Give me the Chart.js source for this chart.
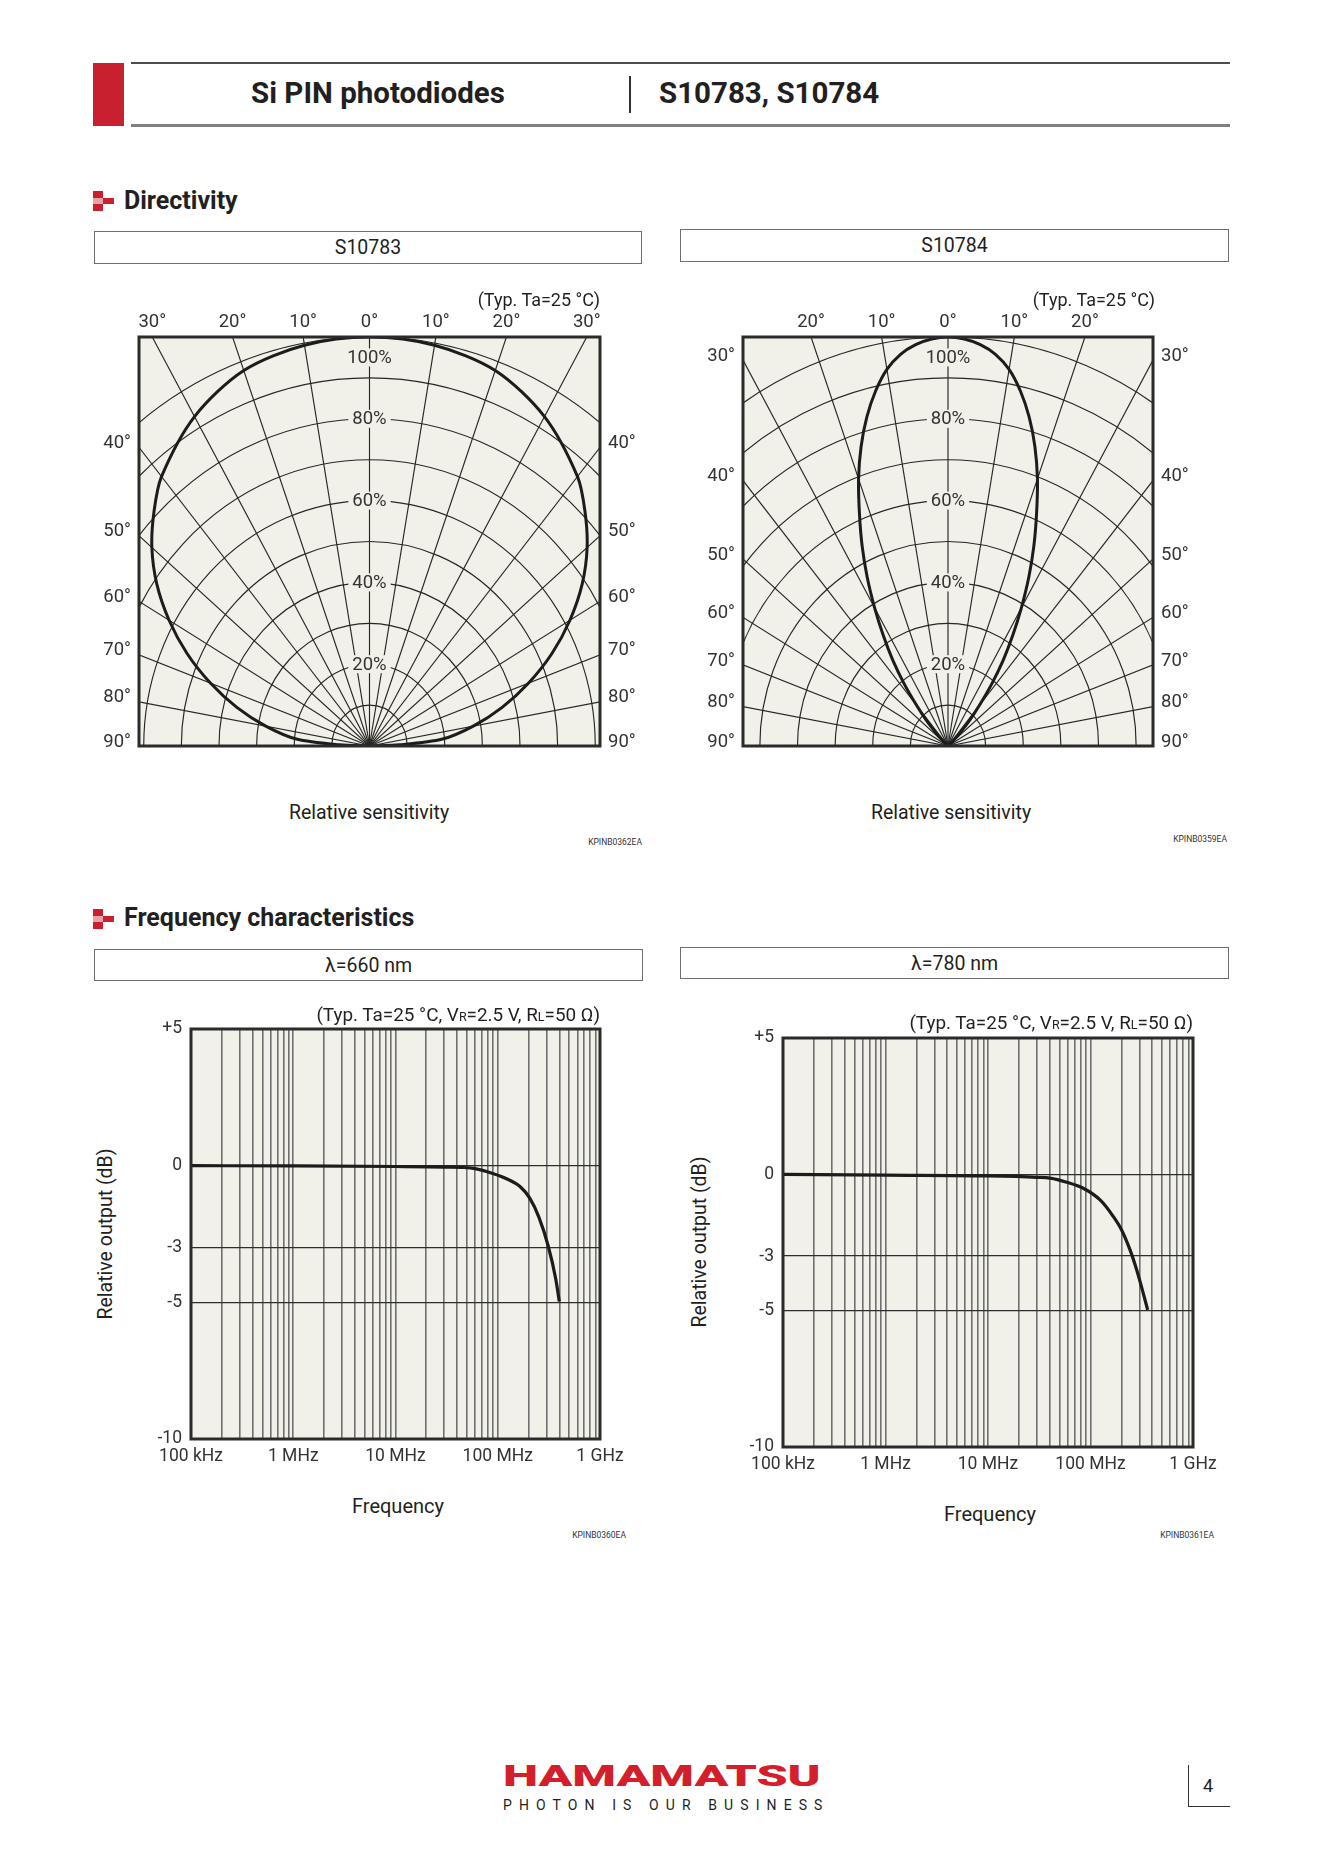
<!DOCTYPE html>
<html>
<head>
<meta charset="utf-8">
<title>Si PIN photodiodes S10783, S10784</title>
<script src="https://cdn.jsdelivr.net/npm/chart.js@4.4.1/dist/chart.umd.min.js"></script>
<style>
    html, body { margin: 0; padding: 0; background: #fff; }
    body { position: relative; width: 1322px; height: 1871px; overflow: hidden;
           font-family: Roboto, "DejaVu Sans", sans-serif; color: #231f20; }
    .t { position: absolute; white-space: nowrap; line-height: 1; transform: translateY(-50%); }
    .t.c { transform: translate(-50%, -50%); }
    .t.r { transform: translate(-100%, -50%); }
    .t.v { transform: translate(-50%, -50%) rotate(-90deg); }
    .rule { position: absolute; }
    .box { position: absolute; box-sizing: border-box; border: 1.5px solid #6d6e71; background: #fff;
           display: flex; align-items: center; justify-content: center; font-size: 19.5px; }
    .sub { font-size: 0.66em; }
    .code { font-size: 8.5px; color: #333; }
    canvas { position: absolute; }
</style>
</head>
<body>

<!-- page header -->
<div class="rule" style="left:93px;top:63px;width:31px;height:63px;background:#c8202f"></div>
<div class="rule" style="left:131px;top:62px;width:1099px;height:2px;background:#4d4d4f"></div>
<div class="rule" style="left:131px;top:124px;width:1099px;height:2.5px;background:#808082"></div>
<div class="rule" style="left:629px;top:76px;width:1.5px;height:37px;background:#333"></div>
<div class="t c" style="left:378px;top:94px;font-size:29.5px;font-weight:700">Si PIN photodiodes</div>
<div class="t" style="left:659px;top:94px;font-size:29.5px;font-weight:700">S10783, S10784</div>

<!-- section: directivity -->
<div class="rule" style="left:93px;top:191px;width:10px;height:7px;background:#c8202f"></div>
<div class="rule" style="left:93px;top:198px;width:10px;height:6px;background:#e8a3a8"></div>
<div class="rule" style="left:103px;top:198px;width:11px;height:6px;background:#c8202f"></div>
<div class="rule" style="left:93px;top:204px;width:10px;height:7px;background:#c8202f"></div>
<div class="t" style="left:124px;top:200px;font-size:25px;font-weight:700">Directivity</div>

<div class="box" style="left:94px;top:231px;width:548px;height:33px">S10783</div>
<div class="box" style="left:680px;top:229px;width:549px;height:33px">S10784</div>

<canvas id="polar783" width="560" height="462" style="left:90px;top:300px"></canvas>
<canvas id="polar784" width="510" height="462" style="left:695px;top:300px"></canvas>

<div class="t r" style="left:600px;top:300px;font-size:18px">(Typ. Ta=25 °C)</div>
<div class="t r" style="left:1155px;top:300px;font-size:18px">(Typ. Ta=25 °C)</div>
<div class="t c" style="left:369px;top:813px;font-size:19.5px">Relative sensitivity</div>
<div class="t c" style="left:951px;top:813px;font-size:19.5px">Relative sensitivity</div>
<div class="t r code" style="left:642px;top:842px">KPINB0362EA</div>
<div class="t r code" style="left:1227px;top:839px">KPINB0359EA</div>

<!-- section: frequency characteristics -->
<div class="rule" style="left:93px;top:909px;width:10px;height:7px;background:#c8202f"></div>
<div class="rule" style="left:93px;top:916px;width:10px;height:6px;background:#e8a3a8"></div>
<div class="rule" style="left:103px;top:916px;width:11px;height:6px;background:#c8202f"></div>
<div class="rule" style="left:93px;top:922px;width:10px;height:7px;background:#c8202f"></div>
<div class="t" style="left:124px;top:917px;font-size:25px;font-weight:700">Frequency characteristics</div>

<div class="box" style="left:94px;top:949px;width:549px;height:32px">λ=660 nm</div>
<div class="box" style="left:680px;top:947px;width:549px;height:32px">λ=780 nm</div>

<canvas id="freq660" width="520" height="490" style="left:120px;top:1000px"></canvas>
<canvas id="freq780" width="520" height="490" style="left:712px;top:1009px"></canvas>

<div class="t r" style="left:600px;top:1015px;font-size:18.9px">(Typ. Ta=25 °C, V<span class="sub">R</span>=2.5 V, R<span class="sub">L</span>=50 Ω)</div>
<div class="t r" style="left:1193px;top:1023px;font-size:18.9px">(Typ. Ta=25 °C, V<span class="sub">R</span>=2.5 V, R<span class="sub">L</span>=50 Ω)</div>
<div class="t v" style="left:106px;top:1234px;font-size:19.5px">Relative output (dB)</div>
<div class="t v" style="left:700px;top:1242px;font-size:19.5px">Relative output (dB)</div>
<div class="t c" style="left:398px;top:1506px;font-size:20px">Frequency</div>
<div class="t c" style="left:990px;top:1514px;font-size:20px">Frequency</div>
<div class="t r code" style="left:626px;top:1535px">KPINB0360EA</div>
<div class="t r code" style="left:1214px;top:1535px">KPINB0361EA</div>

<!-- footer -->
<div id="logo" class="t" style="left:503px;top:1776px;font-size:30px;font-weight:900;color:#d31f2b;transform-origin:0 50%">HAMAMATSU</div>
<div id="slogan" class="t" style="left:503px;top:1805px;font-size:14px;color:#231f20">PHOTON IS OUR BUSINESS</div>
<div class="rule" style="left:1188px;top:1765px;width:1.3px;height:42px;background:#333"></div>
<div class="rule" style="left:1188px;top:1806px;width:42px;height:1.3px;background:#333"></div>
<div class="t" style="left:1203px;top:1786px;font-size:18px">4</div>

<script>
// ---- directivity data (angle in degrees from the normal, relative sensitivity in %) ----
const angles783 = [-90, -88, -85, -80, -75, -70, -65, -60, -55, -50, -45, -40, -30, -20, -10, 0,
                   10, 20, 30, 40, 45, 50, 55, 60, 65, 70, 75, 80, 85, 88, 90];
const sens783 = [0, 8, 19.5, 28, 36.5, 45, 53.5, 61.5, 69, 75.5, 81, 86, 93, 97.7, 99.5, 100,
                 99.5, 97.7, 93, 86, 81, 75.5, 69, 61.5, 53.5, 45, 36.5, 28, 19.5, 8, 0];

const angles784 = [-50, -47.5, -45, -42.5, -40, -37.5, -35, -32.5, -30, -27.5, -25, -22.5, -20,
                   -17.5, -15, -12.5, -10, -7.5, -5, -2.5, 0, 2.5, 5, 7.5, 10, 12.5, 15, 17.5,
                   20, 22.5, 25, 27.5, 30, 32.5, 35, 37.5, 40, 42.5, 45, 47.5, 50];
const sens784 = [0, 1, 4, 8.5, 13, 19, 25.5, 32, 39, 46.5, 54, 61.5, 69.5,
                 76.8, 83.3, 88.9, 93.5, 96.6, 98.5, 99.6, 100, 99.6, 98.5, 96.6, 93.5, 88.9, 83.3, 76.8,
                 69.5, 61.5, 54, 46.5, 39, 32, 25.5, 19, 13, 8.5, 4, 1, 0];

const ringValues = [10, 20, 30, 40, 50, 60, 70, 80, 90, 100];
const percentTicks = [20, 40, 60, 80, 100];
const spokeAngles = [-90, -80, -70, -60, -50, -40, -30, -20, -10, 0, 10, 20, 30, 40, 50, 60, 70, 80, 90];

// ---- frequency data (Hz, dB) ----
const freq660 = [1e5, 1e6, 1e7, 3e7, 5.6e7, 7.9e7, 1.19e8, 1.67e8, 2.05e8, 2.53e8, 3.11e8, 3.68e8, 4.0e8];
const db660 = [0, -0.01, -0.03, -0.05, -0.09, -0.22, -0.46, -0.78, -1.18, -1.89, -2.93, -4.12, -4.97];

const freq780 = [1e5, 1e6, 1e7, 3e7, 4.03e7, 5.86e7, 8.5e7, 1.24e8, 1.67e8, 2.01e8, 2.43e8, 2.82e8, 3.27e8, 3.61e8];
const db780 = [0, -0.03, -0.06, -0.11, -0.14, -0.29, -0.51, -0.94, -1.55, -2.04, -2.77, -3.5, -4.36, -4.97];

const xTickValues = [1e5, 1e6, 1e7, 1e8, 1e9];
const xTickLabels = ['100 kHz', '1 MHz', '10 MHz', '100 MHz', '1 GHz'];
const yTickValues = [-10, -5, -3, 0, 5];

const PLOT_BG = '#f1f0e9';
const CURVE = '#1c1c1c';
const TEXT = '#333333';
// the original drawing is a little narrower than it is tall
const H_SQUEEZE = 0.92;

Chart.defaults.font.family = 'Roboto, "DejaVu Sans", sans-serif';
Chart.defaults.color = TEXT;

const polarGrid = {
    id: 'polarGrid',
    beforeDatasetsDraw(chart) {
        const {ctx, chartArea: area, scales: {x, y}} = chart;
        const cx = x.getPixelForValue(0);
        const cy = y.getPixelForValue(0);

        ctx.save();
        ctx.fillStyle = PLOT_BG;
        ctx.fillRect(area.left, area.top, area.width, area.height);
        ctx.beginPath();
        ctx.rect(area.left, area.top, area.width, area.height);
        ctx.clip();

        ctx.strokeStyle = '#262626';
        ctx.lineWidth = 1.15;
        ringValues.forEach(r => {
            const rx = x.getPixelForValue(r) - cx;
            const ry = cy - y.getPixelForValue(r);
            ctx.beginPath();
            ctx.ellipse(cx, cy, rx, ry, 0, Math.PI, 2 * Math.PI);
            ctx.stroke();
        });
        spokeAngles.forEach(deg => {
            const rad = deg * Math.PI / 180;
            ctx.beginPath();
            ctx.moveTo(cx, cy);
            ctx.lineTo(x.getPixelForValue(300 * Math.sin(rad)), y.getPixelForValue(300 * Math.cos(rad)));
            ctx.stroke();
        });

        // percent labels sit on the rings, 100% just under the top edge
        ctx.font = '18.5px Roboto';
        ctx.textAlign = 'center';
        ctx.textBaseline = 'middle';
        percentTicks.forEach(p => {
            const ly = y.getPixelForValue(p === 100 ? p - 5 : p);
            const text = p + '%';
            const w = ctx.measureText(text).width;
            ctx.fillStyle = PLOT_BG;
            ctx.fillRect(cx - w / 2 - 4, ly - 9, w + 8, 18);
            ctx.fillStyle = TEXT;
            ctx.fillText(text, cx, ly + 1);
        });
        ctx.restore();
    },
    afterDatasetsDraw(chart) {
        const {ctx, chartArea: area, scales: {x, y}} = chart;
        ctx.save();
        ctx.strokeStyle = '#2b2b2b';
        ctx.lineWidth = 3;
        ctx.strokeRect(area.left, area.top, area.width, area.height);

        ctx.fillStyle = TEXT;
        ctx.font = '18.5px Roboto';
        ctx.textBaseline = 'middle';
        spokeAngles.forEach(deg => {
            const abs = Math.abs(deg);
            const t = Math.tan(abs * Math.PI / 180);
            const text = abs + '°';
            if (abs < 90 && 100 * t <= x.max) {
                ctx.textAlign = 'center';
                ctx.fillText(text, x.getPixelForValue(Math.sign(deg) * 100 * t), area.top - 15);
            } else {
                const ly = y.getPixelForValue(abs >= 90 ? 0 : x.max / t) - 4;
                if (deg < 0) {
                    ctx.textAlign = 'right';
                    ctx.fillText(text, area.left - 8, ly);
                } else {
                    ctx.textAlign = 'left';
                    ctx.fillText(text, area.right + 8, ly);
                }
            }
        });
        ctx.restore();
    }
};

const plotFrame = {
    id: 'plotFrame',
    beforeDraw(chart) {
        const {ctx, chartArea: area} = chart;
        ctx.save();
        ctx.fillStyle = PLOT_BG;
        ctx.fillRect(area.left, area.top, area.width, area.height);
        ctx.restore();
    },
    afterDatasetsDraw(chart) {
        const {ctx, chartArea: area} = chart;
        ctx.save();
        ctx.strokeStyle = '#2b2b2b';
        ctx.lineWidth = 3;
        ctx.strokeRect(area.left, area.top, area.width, area.height);
        ctx.restore();
    }
};

function toPoints(angles, values) {
    return angles.map((deg, i) => ({
        x: values[i] * Math.sin(deg * Math.PI / 180),
        y: values[i] * Math.cos(deg * Math.PI / 180)
    }));
}

function buildPolar(id, angles, values, plotW, plotH, padding) {
    const xMax = (plotW / 2) / (plotH * H_SQUEEZE) * 100;
    return new Chart(document.getElementById(id), {
        type: 'scatter',
        data: {
            datasets: [{
                data: toPoints(angles, values),
                showLine: true,
                borderColor: CURVE,
                borderWidth: 3,
                pointRadius: 0,
                tension: 0.3,
                fill: false
            }]
        },
        options: {
            responsive: false,
            animation: false,
            events: [],
            layout: {padding},
            plugins: {legend: {display: false}, tooltip: {enabled: false}},
            scales: {
                x: {type: 'linear', min: -xMax, max: xMax, display: false},
                y: {type: 'linear', min: 0, max: 100, display: false}
            }
        },
        plugins: [polarGrid]
    });
}

function logGridValues() {
    const values = [];
    for (let d = 1e5; d < 1e9; d *= 10) {
        for (let k = 1; k <= 9; k++) values.push(k * d);
    }
    values.push(1e9);
    return values;
}

function buildFreq(id, freqs, dbs, padding) {
    return new Chart(document.getElementById(id), {
        type: 'scatter',
        data: {
            datasets: [{
                data: freqs.map((f, i) => ({x: f, y: dbs[i]})),
                showLine: true,
                borderColor: CURVE,
                borderWidth: 3.2,
                pointRadius: 0,
                cubicInterpolationMode: 'monotone',
                fill: false
            }]
        },
        options: {
            responsive: false,
            animation: false,
            events: [],
            layout: {padding},
            plugins: {legend: {display: false}, tooltip: {enabled: false}},
            scales: {
                x: {
                    type: 'logarithmic',
                    min: 1e5,
                    max: 1e9,
                    afterBuildTicks: scale => { scale.ticks = logGridValues().map(v => ({value: v})); },
                    afterFit: scale => { scale.height = 30; },
                    ticks: {
                        autoSkip: false,
                        maxRotation: 0,
                        padding: 7,
                        font: {size: 17.5},
                        color: TEXT,
                        callback: value => {
                            const i = xTickValues.findIndex(v => Math.abs(v - value) < v * 1e-6);
                            return i >= 0 ? xTickLabels[i] : '';
                        }
                    },
                    grid: {color: '#6f6f6f', lineWidth: 1.6, drawTicks: false},
                    border: {display: false}
                },
                y: {
                    type: 'linear',
                    min: -10,
                    max: 5,
                    afterBuildTicks: scale => { scale.ticks = yTickValues.map(v => ({value: v})); },
                    afterFit: scale => { scale.width = 71; },
                    ticks: {
                        padding: 9,
                        font: {size: 17.5},
                        color: TEXT,
                        callback: value => (value > 0 ? '+' + value : String(value))
                    },
                    grid: {color: '#2e2e2e', lineWidth: 1.3, drawTicks: false},
                    border: {display: false}
                }
            }
        },
        plugins: [plotFrame]
    });
}

buildPolar('polar783', angles783, sens783, 461, 409, {left: 49, top: 37, right: 50, bottom: 16});
buildPolar('polar784', angles784, sens784, 410, 409, {left: 48, top: 37, right: 52, bottom: 16});
buildFreq('freq660', freq660, db660, {left: 0, top: 29, right: 40, bottom: 21});
buildFreq('freq780', freq780, db780, {left: 0, top: 29, right: 39, bottom: 22});

// stretch the logo and space out the slogan to the printed widths
const logo = document.getElementById('logo');
logo.style.transform = `translateY(-50%) scaleX(${317 / logo.offsetWidth})`;
const slogan = document.getElementById('slogan');
const chars = slogan.textContent.length;
slogan.style.letterSpacing = ((319 - slogan.offsetWidth) / (chars - 1)) + 'px';
</script>
</body>
</html>
